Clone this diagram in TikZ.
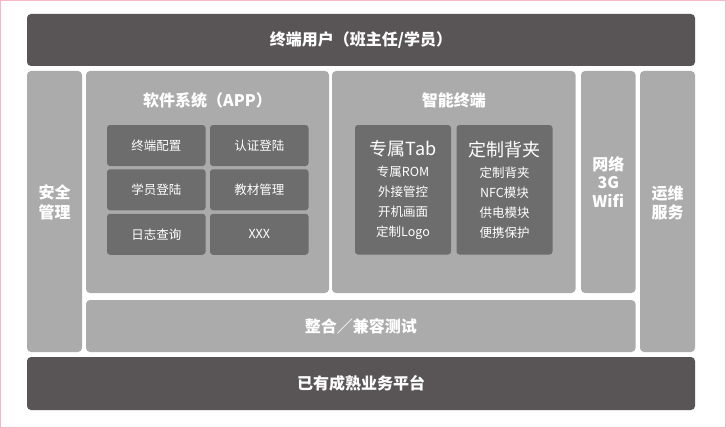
\documentclass[tikz,border=0pt]{standalone}
\usepackage{fontspec}
\setmainfont{Noto Sans CJK SC}
\definecolor{darkbar}{HTML}{595556}
\definecolor{lightbox}{HTML}{AAABAA}
\definecolor{innerbox}{HTML}{6E6D6D}
\definecolor{pinkline}{HTML}{F5B8C4}
\begin{document}
\begin{tikzpicture}[x=1pt,y=-1pt,
  blk/.style={rounded corners=4pt, inner sep=0pt, text=white, align=center},
  darkblk/.style={blk, fill=darkbar, font=\bfseries\fontsize{16}{18}\selectfont},
  lightblk/.style={blk, fill=lightbox, font=\bfseries\fontsize{16}{18.5}\selectfont},
  cell/.style={blk, rounded corners=3pt, fill=innerbox, minimum width=98.5pt, minimum height=41pt, font=\fontsize{12.5}{14}\selectfont},
  tallcell/.style={blk, rounded corners=3pt, fill=innerbox, minimum width=96pt, minimum height=129.5pt, font=\fontsize{12.5}{20}\selectfont},
  titletext/.style={text=white, inner sep=0pt, align=center, font=\bfseries\fontsize{16}{19.5}\selectfont}
]
\useasboundingbox (0,0) rectangle (726,428);
\fill[white] (0,0) rectangle (726,428);
\draw[pinkline, line width=1pt] (0.5,0.5) rectangle (725.5,427.5);

% outer blocks
\node[darkblk, minimum width=668pt, minimum height=52pt] (top) at (361,40) {终端用户（班主任/学员）};
\node[lightblk, minimum width=55pt, minimum height=281pt] (sec) at (54.5,211.5) {};
\node[lightblk, minimum width=243pt, minimum height=222pt] (soft) at (207.5,182) {};
\node[lightblk, minimum width=243.5pt, minimum height=222pt] (smart) at (453.75,182) {};
\node[lightblk, minimum width=54.5pt, minimum height=222pt] (net) at (608.25,182) {网络\\3G\\Wifi};
\node[lightblk, minimum width=55pt, minimum height=281pt] (ops) at (667.5,211.5) {};
\node[lightblk, minimum width=549.5pt, minimum height=52pt] (integ) at (360.75,326) {整合／兼容测试};
\node[darkblk, minimum width=668pt, minimum height=53pt] (base) at (361,383.5) {已有成熟业务平台};

% titles
\node[titletext] (softtitle) at (207.5,100) {软件系统（APP）};
\node[titletext] (smarttitle) at (453.75,100) {智能终端};
\node[titletext] (sectext) at (54.5,202.5) {安全\\管理};
\node[titletext] (opstext) at (667.5,203) {运维\\服务};

% software cells
\node[cell] (c11) at (156.25,145.5) {终端配置};
\node[cell] (c12) at (259.25,145.5) {认证登陆};
\node[cell] (c21) at (156.25,189.75) {学员登陆};
\node[cell] (c22) at (259.25,189.75) {教材管理};
\node[cell] (c31) at (156.25,234.25) {日志查询};
\node[cell] (c32) at (259.25,234.25) {XXX};

% smart terminal cells
\node[tallcell] (tab) at (403,189.75) {{\fontsize{18}{20}\selectfont 专属Tab}\\[1.5pt]专属ROM\\外接管控\\开机画面\\定制Logo};
\node[tallcell] (clip) at (504.5,189.75) {{\fontsize{18}{20}\selectfont 定制背夹}\\[1.5pt]定制背夹\\NFC模块\\供电模块\\便携保护};
\end{tikzpicture}
\end{document}
